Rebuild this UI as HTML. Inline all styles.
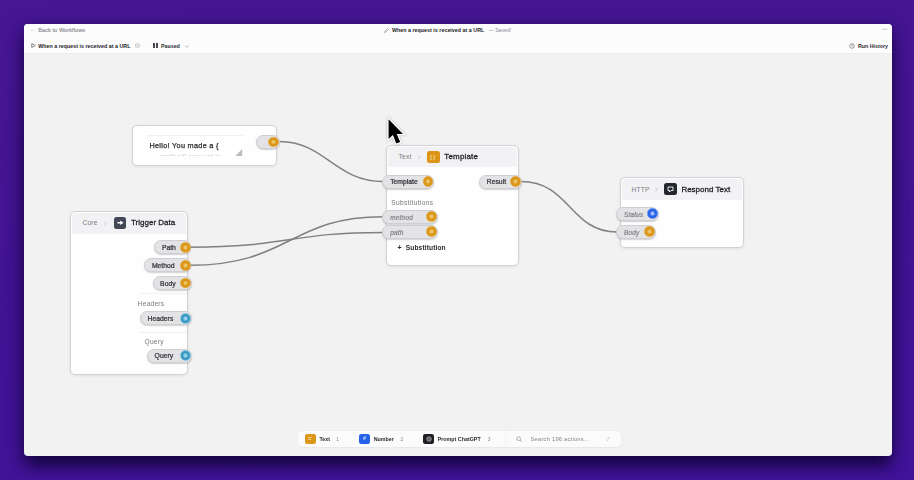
<!DOCTYPE html>
<html><head><meta charset="utf-8">
<style>
*{box-sizing:border-box;margin:0;padding:0}
html,body{width:914px;height:480px;overflow:hidden}
body{font-family:"Liberation Sans",sans-serif;position:relative;
background:linear-gradient(176deg,#471694 0%,#421392 50%,#411399 100%);}
.abs{position:absolute}
#shadow{position:absolute;left:24px;top:24px;width:868px;height:432px;border-radius:4px;box-shadow:0 12px 16px -2px rgba(16,2,55,.85),0 2px 16px 1px rgba(20,3,62,.42)}
#win{position:absolute;left:24px;top:24px;width:868px;height:432px;border-radius:4px;background:#f2f2f3;overflow:hidden}
#top{position:absolute;left:0;top:0;width:100%;height:29px;background:#fdfdfd;border-bottom:1px solid #ebebec}
.t{position:absolute;white-space:nowrap;line-height:1}
.node{position:absolute;background:#fefefe;border:1px solid #d2d2d6;border-radius:5px;box-shadow:0 1px 3px rgba(0,0,0,.08)}
.hd{position:absolute;left:1px;top:.8px;right:1px;background:#f2f2f4;border-radius:3.5px 3.5px 1px 1px}
.pill{position:absolute;height:14px;border-radius:7px;background:#e3e3e6;border:1px solid #cfcfd3;box-shadow:0 1px 1.5px rgba(0,0,0,.18)}
.pill .t{top:3.7px;font-size:6.8px;color:#303034;-webkit-text-stroke:.22px #303034;letter-spacing:0}
.pill .t.it{font-style:italic;font-size:6.4px;top:3.9px;color:#808086;letter-spacing:.25px;-webkit-text-stroke:.2px #808086}
.lbl{font-size:6.6px;color:#7a7a80;letter-spacing:.22px}
.ttl{font-size:8px;color:#1f1f23;-webkit-text-stroke:.28px #1f1f23;letter-spacing:0;margin-top:-.2px}
.bb{top:436.6px;font-size:5.3px;color:#2a2a2e;font-weight:bold}
.bn{top:438.3px;font-size:4.8px;color:#85858b}
.chev{fill:none;stroke:#acacb1;stroke-width:1.2}
.dot{position:absolute;width:10.8px;height:10.8px;border-radius:50%;top:.6px;right:-.1px}
.or{background:radial-gradient(circle,#edc461 0 22%,#d9961a 42%);border:1px solid #e3a838}
.te{background:radial-gradient(circle,#8fd0ea 0 22%,#3a98c2 42%);border:1.2px solid #86c6e2}
.bl{background:radial-gradient(circle,#9dbcf8 0 22%,#2563eb 42%);border:1px solid #5b8bf2}
svg{position:absolute;overflow:visible}
</style></head><body>
<div id="shadow"></div>
<div id="win"><div id="c" class="abs" style="left:-24px;top:-24px;width:914px;height:480px;filter:blur(.3px)">
 <div class="abs" style="left:24px;top:24px;width:868px;height:29.9px;background:#fcfcfd;border-bottom:1px solid #eeeef0"></div>

 <!-- top row 1 -->
 <div class="t" style="left:30px;top:27px;font-size:5px;color:#9a9aa0">←</div>
 <div class="t" id="back" style="left:38.2px;top:27.5px;font-size:5.6px;color:#8e8e94;letter-spacing:.06px;-webkit-text-stroke:.15px #8e8e94">Back to Workflows</div>
 <svg style="left:383.5px;top:27.5px" width="5" height="5" viewBox="0 0 10 10"><path d="M1 9 L2 6 L7.5 0.8 L9.2 2.5 L4 8 Z" fill="none" stroke="#8a8a90" stroke-width="1.2"/></svg>
 <div class="t" id="title1" style="left:392px;top:27.6px;font-size:5.3px;color:#222226;font-weight:bold;letter-spacing:.03px">When a request is received at a URL</div>
 <div class="t" id="saved" style="left:488.5px;top:27.6px;font-size:5.2px;color:#8e8e94">— Saved!</div>
 <div class="t" style="left:882px;top:28px;font-size:4.6px;color:#bdbdc2;letter-spacing:.2px">•••</div>

 <!-- top row 2 -->
 <svg style="left:30.5px;top:43.3px" width="5" height="5" viewBox="0 0 10 10"><path d="M1.5 1 L8.5 5 L1.5 9 Z" fill="none" stroke="#55555a" stroke-width="1.4" stroke-linejoin="round"/></svg>
 <div class="t" id="title2" style="left:38.2px;top:43.5px;font-size:5.3px;color:#222226;font-weight:bold;letter-spacing:.03px">When a request is received at a URL</div>
 <svg style="left:135px;top:42.8px;opacity:.7" width="5" height="5" viewBox="0 0 10 10"><rect x="1" y="1.5" width="8" height="7" rx="1" fill="none" stroke="#a0a0a6" stroke-width="1.2"/><path d="M1 4.5H9M5 4.5V8.5" stroke="#a0a0a6" stroke-width="1.2"/></svg>
 <div class="abs" style="left:153.4px;top:43.4px;width:1.9px;height:5px;background:#4a4a50"></div>
 <div class="abs" style="left:156.2px;top:43.4px;width:1.9px;height:5px;background:#4a4a50"></div>
 <div class="t" id="paused" style="left:161px;top:43.5px;font-size:5.3px;color:#2c2c30;font-weight:bold">Paused</div>
 <svg style="left:185px;top:44.8px" width="4" height="3" viewBox="0 0 8 6"><path d="M1 1.5 L4 4.5 L7 1.5" fill="none" stroke="#88888e" stroke-width="1.3"/></svg>
 <svg style="left:849px;top:43px" width="6" height="6" viewBox="0 0 12 12"><circle cx="6" cy="6" r="4.6" fill="none" stroke="#66666c" stroke-width="1.3"/><path d="M6 3.2V6L7.8 7" fill="none" stroke="#66666c" stroke-width="1.2"/></svg>
 <div class="t" id="runh" style="left:858px;top:43.5px;font-size:5.3px;color:#2c2c30;font-weight:bold">Run History</div>

 <!-- wires -->
 <svg style="left:0;top:0" width="914" height="480" viewBox="0 0 914 480" fill="none" stroke="#808084" stroke-width="1.5">
  <path d="M279.500 141.600 C325 141.600 335 181.5 383 181.5"/>
  <path d="M190 247.200 C290 247 290 232.400 383 232.400"/>
  <path d="M190 265.300 C290 265 290 216.700 383 216.700"/>
  <path d="M521 181.5 C570 181.5 570 232 617 232"/>
 </svg>

 <!-- text literal node -->
 <div class="node" style="left:132.4px;top:124.9px;width:144.3px;height:41.3px"></div>
 <div class="abs" style="left:147px;top:135px;width:96.5px;height:21.3px;background:#fff;overflow:hidden;border-top:1px solid #f1f1f3">
   <div class="t" id="hello" style="left:2.4px;top:6.2px;font-size:7.3px;color:#2a2a2e;-webkit-text-stroke:.25px #2a2a2e;letter-spacing:.3px">Hello! You made a {</div>
   <div class="t" style="left:13px;top:16.6px;font-size:7.3px;color:#cfcfd3">method} request to</div>
   <svg style="left:87.6px;top:12.6px" width="7.2" height="7.2" viewBox="0 0 7 7"><path d="M7 0V7H0Z" fill="#bdbdc1"/></svg>
 </div>
 <div class="pill" style="left:256.4px;top:135px;width:23.6px"><div class="dot or"></div></div>

 <!-- Trigger Data node -->
 <div class="node" style="left:70px;top:211px;width:117.5px;height:163.5px"><div class="hd" style="height:21px"></div></div>
 <div class="t lbl" id="core" style="left:82.5px;top:220.2px">Core</div>
 <svg class="chev" style="left:104.2px;top:221px" width="3" height="5" viewBox="0 0 6 10"><path d="M1 1.5L4.6 5L1 8.500"/></svg>
 <div class="abs" style="left:113.7px;top:216.6px;width:12.6px;height:12px;border-radius:2.5px;background:#434856"></div>
 <svg style="left:116.5px;top:219.8px" width="7" height="5.6" viewBox="0 0 17 13"><path d="M1 4.5H8V1L16 6.500L8 12V8.500H1Z" fill="#fff"/></svg>
 <div class="t ttl" id="trig" style="left:131px;top:219.5px">Trigger Data</div>

 <div class="pill" style="left:154.3px;top:240.3px;width:37.2px"><div class="t" style="left:6.6px">Path</div><div class="dot or"></div></div>
 <div class="pill" style="left:144.3px;top:258.3px;width:47.2px"><div class="t" style="left:6.6px">Method</div><div class="dot or"></div></div>
 <div class="pill" style="left:152.5px;top:276px;width:39px"><div class="t" style="left:6.6px">Body</div><div class="dot or"></div></div>
 <div class="abs" style="left:140px;top:293px;width:47px;height:1px;background:#f1f1f3"></div>
 <div class="t lbl" id="lblh" style="left:137.8px;top:301.3px">Headers</div>
 <div class="pill" style="left:140px;top:311.3px;width:51.5px"><div class="t" style="left:6.6px">Headers</div><div class="dot te"></div></div>
 <div class="abs" style="left:139px;top:331.8px;width:48px;height:1px;background:#f1f1f3"></div>
 <div class="t lbl" id="lblq" style="left:144.6px;top:338.7px">Query</div>
 <div class="pill" style="left:147px;top:348.6px;width:44.500px"><div class="t" style="left:6.6px">Query</div><div class="dot te"></div></div>

 <!-- Template node -->
 <div class="node" style="left:385.6px;top:145.4px;width:133.3px;height:120.6px"><div class="hd" style="height:19.6px"></div></div>
 <div class="t lbl" id="ttext" style="left:398.5px;top:153.6px">Text</div>
 <svg class="chev" style="left:418.2px;top:154.6px" width="3" height="5" viewBox="0 0 6 10"><path d="M1 1.5L4.6 5L1 8.500"/></svg>
 <div class="abs" style="left:427.2px;top:150.7px;width:12.8px;height:12.2px;border-radius:2.5px;background:#dc9417"></div>
 <div class="t" style="left:429.7px;top:153.6px;font-size:6px;color:#f6d9a0;font-weight:bold;letter-spacing:1px">{}</div>
 <div class="t ttl" id="tmpl" style="left:444.3px;top:153px;letter-spacing:.17px">Template</div>

 <div class="pill" style="left:381.8px;top:174.5px;width:52.6px"><div class="t" style="left:7.4px">Template</div><div class="dot or"></div></div>
 <div class="pill" style="left:479.2px;top:174.5px;width:42.8px"><div class="t" style="left:6.6px">Result</div><div class="dot or"></div></div>
 <div class="t lbl" id="subs" style="left:391.2px;top:199.6px;color:#77777d;letter-spacing:.34px">Substitutions</div>
 <div class="pill" style="left:381.8px;top:209.7px;width:56px"><div class="t it" style="left:7.4px">method</div><div class="dot or"></div></div>
 <div class="pill" style="left:381.8px;top:224.9px;width:56px"><div class="t it" style="left:7.4px">path</div><div class="dot or"></div></div>
 <div class="t" id="plus" style="left:397.4px;top:244.4px;font-size:7px;color:#2a2a2e;font-weight:bold">+</div>
 <div class="t" id="addsub" style="left:405.8px;top:244.9px;font-size:6.6px;color:#2a2a2e;font-weight:bold;letter-spacing:.12px">Substitution</div>

 <!-- Respond Text node -->
 <div class="node" style="left:619.5px;top:177.4px;width:124.6px;height:70.3px"><div class="hd" style="height:20.6px"></div></div>
 <div class="t lbl" id="http" style="left:631.5px;top:186.8px">HTTP</div>
 <svg class="chev" style="left:655px;top:187.2px" width="3" height="5" viewBox="0 0 6 10"><path d="M1 1.5L4.6 5L1 8.500"/></svg>
 <div class="abs" style="left:664.3px;top:182.8px;width:12.8px;height:12.4px;border-radius:2.5px;background:#24262d"></div>
 <svg style="left:667.3px;top:185.6px" width="7" height="7" viewBox="0 0 14 14"><path d="M2 2H12V9H8L5 12V9H2Z" fill="none" stroke="#fff" stroke-width="1.8" stroke-linejoin="round"/></svg>
 <div class="t ttl" id="resp" style="left:681.4px;top:185.8px">Respond Text</div>
 <div class="pill" style="left:616px;top:206.7px;width:43.1px"><div class="t it" style="left:6.9px">Status</div><div class="dot bl"></div></div>
 <div class="pill" style="left:616px;top:224.9px;width:39.600px"><div class="t it" style="left:6.9px">Body</div><div class="dot or"></div></div>

 <!-- bottom bar -->
 <div class="abs" style="left:298px;top:431px;width:323px;height:16px;border-radius:5px;background:#fbfbfc;box-shadow:0 0.5px 2px rgba(0,0,0,.05)"></div>
 <div class="abs" style="left:503.5px;top:431px;width:4px;height:16px;background:#f8f8f9"></div>
 <div class="abs" style="left:304.5px;top:433.5px;width:11.1px;height:10.6px;border-radius:2.2px;background:#d9961a"></div>
 <div class="abs" style="left:307.6px;top:436.7px;width:4.6px;height:1.1px;background:#f1cd7c"></div>
 <div class="abs" style="left:307.6px;top:439.4px;width:3px;height:1.1px;background:#f1cd7c"></div>
 <div class="t bb" id="btext" style="left:319.5px">Text</div>
 <div class="t bn" style="left:336.3px">1</div>
 <div class="abs" style="left:359.2px;top:433.5px;width:11px;height:10.6px;border-radius:2.2px;background:#2563eb"></div>
 <div class="t" style="left:363px;top:436.2px;font-size:5.5px;color:#cfdcff;font-weight:bold">#</div>
 <div class="t bb" id="bnum" style="left:373.7px">Number</div>
 <div class="t bn" style="left:400.6px">2</div>
 <div class="abs" style="left:423px;top:433.5px;width:11.1px;height:10.6px;border-radius:2.2px;background:#1d1d22"></div>
 <svg style="left:425.6px;top:435.8px" width="6" height="6" viewBox="0 0 12 12"><circle cx="6" cy="6" r="4.3" fill="none" stroke="#e8e8ec" stroke-width="1.5"/><circle cx="6" cy="6" r="1.4" fill="#e8e8ec"/></svg>
 <div class="t bb" id="bprompt" style="left:437.7px;letter-spacing:.02px">Prompt ChatGPT</div>
 <div class="t bn" style="left:487.8px">3</div>
 <svg style="left:516.3px;top:435.8px" width="6.4" height="6.4" viewBox="0 0 12 12"><circle cx="5" cy="5" r="3.6" fill="none" stroke="#8f8f95" stroke-width="1.3"/><path d="M7.8 7.8L11 11" stroke="#8f8f95" stroke-width="1.4"/></svg>
 <div class="t" id="bsearch" style="left:530.5px;top:437.1px;font-size:5.8px;color:#85858b;letter-spacing:.21px">Search 196 actions...</div>
 <div class="t" style="left:607.3px;top:437.1px;font-size:5.8px;color:#a0a0a6;font-style:italic">/</div>

 <!-- cursor -->
 <svg style="left:0;top:0" width="914" height="480" viewBox="0 0 914 480"><path d="M388.600 119.200 L388.600 138.900 L392.900 135.100 L396.300 143.600 L400.200 142 L396.800 133.900 L403 133.900 Z" fill="#000" stroke="#fff" stroke-width="2.6" stroke-linejoin="miter" stroke-miterlimit="6" paint-order="stroke" style="filter:drop-shadow(0 .6px .8px rgba(0,0,0,.3))"/></svg>
</div></div>
</body></html>
